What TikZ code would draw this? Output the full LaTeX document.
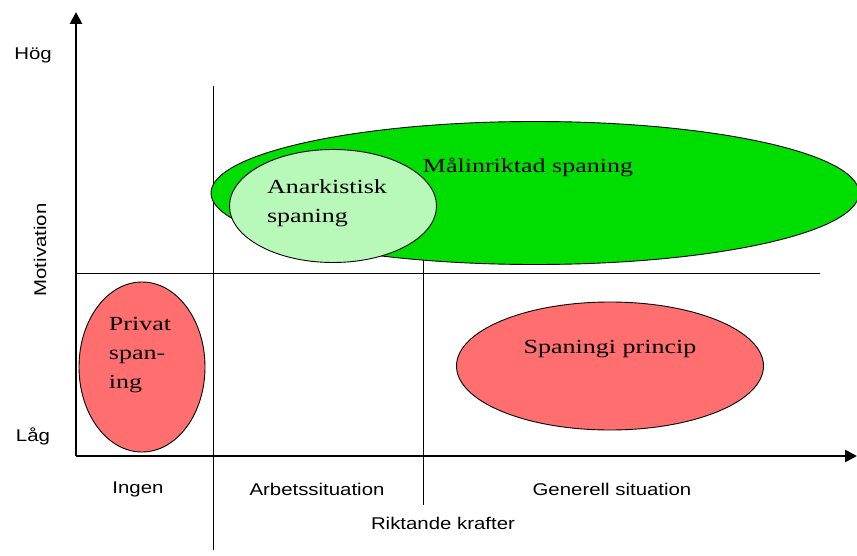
\documentclass[tikz,border=0pt]{standalone}
\usepackage{fontspec}
\setmainfont{Liberation Serif}[FakeStretch=1.3]
\newfontfamily\axisfont{Liberation Sans}[FakeStretch=1.2]
\usepackage{xcolor}
\usepackage{tikz}
\usetikzlibrary{arrows.meta,shapes.geometric,positioning}
\definecolor{goalgreen}{RGB}{0,221,0}
\definecolor{palegreen}{RGB}{184,248,184}
\definecolor{softred}{RGB}{255,111,111}
\tikzstyle{line}=[draw]
\tikzstyle{axis}=[line width=2.6pt,-{Triangle[length=12pt,width=12pt]}]
\tikzstyle{blob}=[ellipse,draw,line width=0.9pt,inner sep=0pt]
\tikzstyle{axlab}=[font=\axisfont\fontsize{17}{20}\selectfont]
\tikzstyle{inlab}=[font=\fontsize{20}{29}\selectfont,align=left]

\begin{document}
\begin{tikzpicture}[x=1pt,y=-1pt]
\useasboundingbox (0,0) rectangle (857,556);
%\fill[white] (0,0) rectangle (857,556);
\coordinate (o) at (76,456);
\coordinate (ytop) at (76,12);
\coordinate (xend) at (857,456);
\coordinate (v1top) at (213,86);
\coordinate (v1bot) at (213,550);
\coordinate (v2top) at (423,250);
\coordinate (v2bot) at (423,505);
\coordinate (hleft) at (76,273);
\coordinate (hright) at (820,273);
\draw[line,thick,-](v1top)--(v1bot);
\draw[line,thick,-](v2top)--(v2bot);
\draw[line,thick,-](hleft)--(hright);
% ellipses
\node[blob,fill=goalgreen,minimum width=648pt,minimum height=143pt](goal) at (535,193){};
\node[blob,fill=palegreen,minimum width=207pt,minimum height=113pt](anark) at (333,206){};
\node[blob,fill=softred,minimum width=126pt,minimum height=170pt](privat) at (142,367){};
\node[blob,fill=softred,minimum width=307pt,minimum height=128pt](princip) at (610,366){};
\node[inlab](goaltxt) at (528,167){Målinriktad spaning};
\node[inlab](anarktxt) at (327,203){Anarkistisk\\spaning};
\node[inlab](privattxt) at (140,355){Privat\\span-\\ing};
\node[inlab](principtxt) at (610,349){Spaningi princip};
% axes
\draw[axis](o)--(ytop);
\draw[axis](o)--(xend);
\node[axlab](hog) at (33,55){Hög};
\node[axlab](lag) at (33,436){Låg};
\node[axlab,rotate=90](motiv) at (40,250){Motivation};
\node[axlab](ingen) at (138,489){Ingen};
\node[axlab](arbete) at (317,489){Arbetssituation};
\node[axlab](generell) at (612,489){Generell situation};
\node[axlab](krafter) at (443,523){Riktande krafter};
\end{tikzpicture}
\end{document}
